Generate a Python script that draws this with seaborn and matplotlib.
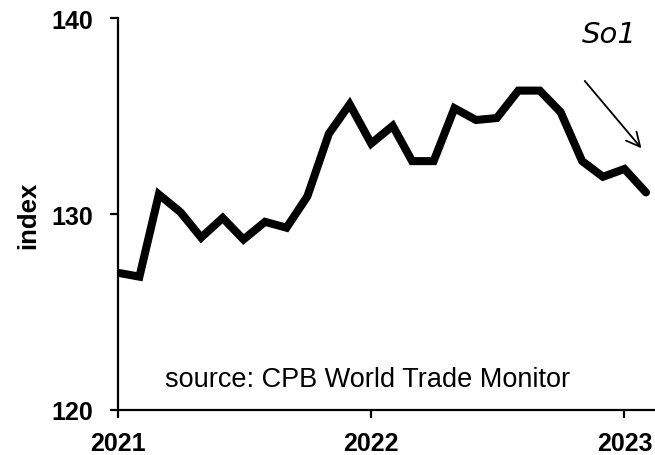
import numpy as np
import pandas as pd
import matplotlib
matplotlib.use("Agg")
import matplotlib.pyplot as plt
import seaborn as sns

# monthly world trade volume index, Jan 2021 - Feb 2023
months = pd.date_range("2021-01-01", "2023-02-01", freq="MS")
index_values = [127.0, 126.8, 131.0, 130.1, 128.8, 129.8, 128.7, 129.6, 129.3,
                130.9, 134.1, 135.6, 133.6, 134.5, 132.7, 132.7, 135.4, 134.8,
                134.9, 136.3, 136.3, 135.2, 132.7, 131.9, 132.3, 131.1]
year_ticks = ["2021", "2022", "2023"]
y_ticks = [120, 130, 140]
source_note = "source: CPB World Trade Monitor"

df = pd.DataFrame({"month": months, "index": index_values})

sns.set_style("ticks")
plt.rcParams["font.family"] = ["Liberation Sans", "DejaVu Sans"]
plt.rcParams["text.color"] = "black"
plt.rcParams["xtick.color"] = "black"
plt.rcParams["ytick.color"] = "black"

fig = plt.figure(figsize=(6.55, 4.56), dpi=100)
ax = fig.add_axes([0.180, 0.099, 0.82, 0.859])

sns.lineplot(data=df, x="month", y="index", color="black", linewidth=5.8, ax=ax,
             solid_joinstyle="miter")

ax.set_ylim(120, 140)
ax.set_xlim(pd.Timestamp("2021-01-01"), pd.Timestamp("2023-02-14"))
ax.set_yticks(y_ticks)
ax.set_yticklabels([str(t) for t in y_ticks], fontsize=18, fontweight="bold")
ax.set_xticks([pd.Timestamp(f"{y}-01-01") for y in year_ticks])
ax.set_xticklabels(year_ticks, fontsize=18, fontweight="bold")
ax.set_xlabel("")
ax.set_ylabel("index", fontsize=18.5, fontweight="bold", color="black")
ax.yaxis.set_label_coords(-0.145, 0.5)

sns.despine(ax=ax)
for side in ["left", "bottom"]:
    ax.spines[side].set_linewidth(1.6)
    ax.spines[side].set_color("black")
ax.tick_params(axis="both", length=6, width=1.6, color="black")
ax.tick_params(axis="y", pad=12)
ax.tick_params(axis="x", pad=9)

ax.text(0.088, 0.061, source_note, transform=ax.transAxes, fontsize=19.5,
        ha="left", va="baseline")

# handwritten note and arrow in the corner
fig.text(0.888, 0.905, "So1", fontsize=21, fontstyle="italic",
         family=["DejaVu Sans"], fontweight="light")
ax.annotate("", xy=(0.982, 0.668), xytext=(0.890, 0.825),
            xycoords="figure fraction", textcoords="figure fraction",
            arrowprops=dict(arrowstyle="->", color="black", lw=1.3,
                            mutation_scale=25))

fig.savefig("out.png", dpi=100)
